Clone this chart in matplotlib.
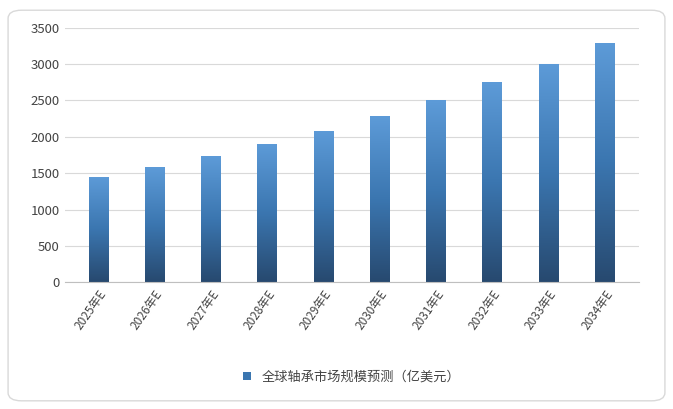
import matplotlib
matplotlib.use("Agg")
import matplotlib.pyplot as plt
import numpy as np
from matplotlib.patches import FancyBboxPatch, Rectangle
from matplotlib.colors import LinearSegmentedColormap

plt.rcParams['font.family'] = ['Noto Sans CJK SC', 'DejaVu Sans']

years = ["2025年E", "2026年E", "2027年E", "2028年E", "2029年E",
         "2030年E", "2031年E", "2032年E", "2033年E", "2034年E"]
values = [1450, 1580, 1730, 1900, 2080, 2280, 2500, 2750, 3000, 3290]
legend_label = "全球轴承市场规模预测（亿美元）"

fig = plt.figure(figsize=(6.73, 4.09), dpi=100)
fig.patches.append(FancyBboxPatch((0.012, 0.02), 0.976, 0.955,
                                  boxstyle="round,pad=0,rounding_size=0.02",
                                  transform=fig.transFigure, fc="white",
                                  ec="#d9d9d9", lw=1, zorder=-5))
ax = fig.add_axes([0.096, 0.31, 0.853, 0.622])
ax.patch.set_alpha(0)
x = np.arange(len(values))
w = 0.35
bars = ax.bar(x, values, width=w, color="none", edgecolor="none", label=legend_label)
grad = np.linspace(0, 1, 256).reshape(-1, 1)
cmap = LinearSegmentedColormap.from_list("g", ["#27496f", "#3b76b0", "#5d9bd8"])
for b in bars:
    x0 = b.get_x()
    im = ax.imshow(grad, extent=[x0, x0 + b.get_width(), 0, b.get_height()],
                   origin="lower", aspect="auto", cmap=cmap, zorder=2)
    im.set_clip_path(b)
ax.set_xlim(-0.6, len(values) - 0.4)
ax.set_ylim(0, 3500)
ax.set_yticks(range(0, 3501, 500))
ax.yaxis.grid(True, color="#d9d9d9", lw=0.8)
ax.set_axisbelow(True)
for s in ["top", "right", "left"]:
    ax.spines[s].set_visible(False)
ax.spines["bottom"].set_color("#bfbfbf")
ax.tick_params(axis="y", length=0, labelsize=9.5, colors="#444444")
ax.tick_params(axis="x", length=0, labelsize=8.5, colors="#444444", pad=4)
ax.set_xticks(x)
ax.set_xticklabels(years, rotation=55, ha="right", rotation_mode="anchor")
ax.legend(handles=[Rectangle((0, 0), 1, 1, fc="#3b76b0")], labels=[legend_label],
          loc="center", bbox_to_anchor=(0.5, -0.374), frameon=False,
          fontsize=9.5, handlelength=0.6, handleheight=0.6, labelcolor="#444444")
fig.savefig("out.png", dpi=100)
